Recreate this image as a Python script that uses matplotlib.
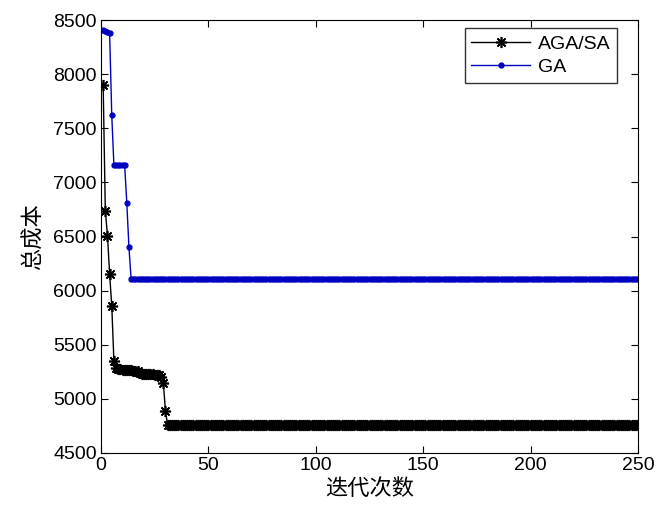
import matplotlib
matplotlib.use('Agg')
import matplotlib.pyplot as plt
import numpy as np

plt.rcParams['font.family'] = ['Liberation Sans', 'Noto Sans CJK SC', 'DejaVu Sans']

# iteration numbers
iters = list(range(1, 251))

# AGA/SA total cost per iteration
aga_sa = ([7900, 6740, 6510, 6155, 5860, 5350]
          + [5290, 5280, 5275, 5270, 5270, 5270, 5268, 5265, 5262, 5260, 5255]
          + [5235, 5232, 5230, 5228, 5228, 5226, 5226, 5225, 5222, 5220]
          + [5200, 5150, 4890]
          + [4760] * 220)

# GA total cost per iteration
ga = ([8410, 8400, 8390, 8380, 7620]
      + [7160] * 6
      + [6810, 6400]
      + [6110] * 237)

xticks = [0, 50, 100, 150, 200, 250]
yticks = [4500, 5000, 5500, 6000, 6500, 7000, 7500, 8000, 8500]

fig = plt.figure(figsize=(6.56, 5.05), dpi=100)
ax = fig.add_axes([0.154, 0.103, 0.8186, 0.857])

ax.plot(iters, aga_sa, color='black', linewidth=1.0, marker=(8, 2, 0),
        markersize=8, markeredgewidth=1.2, label='AGA/SA')
ax.plot(iters, ga, color='#0000c0', linewidth=1.0, marker='.',
        markersize=7, label='GA')

ax.set_xlim(0, 250)
ax.set_ylim(4500, 8500)
ax.set_xticks(xticks)
ax.set_yticks(yticks)
ax.tick_params(direction='in', top=True, right=True, labelsize=14, length=5, pad=3)

ax.set_xlabel('迭代次数', fontsize=16, family=['Noto Sans CJK SC', 'DejaVu Sans'],
              labelpad=2)
ax.set_ylabel('总成本', fontsize=16, family=['Noto Sans CJK SC', 'DejaVu Sans'],
              labelpad=6)

leg = ax.legend(loc='upper right', fontsize=14, frameon=True, fancybox=False,
                edgecolor='black', handlelength=3.0, borderpad=0.35,
                labelspacing=0.3, handletextpad=0.4,
                bbox_to_anchor=(0.979, 1.004))
leg.get_frame().set_linewidth(1.0)

plt.savefig('out.png', dpi=100)
